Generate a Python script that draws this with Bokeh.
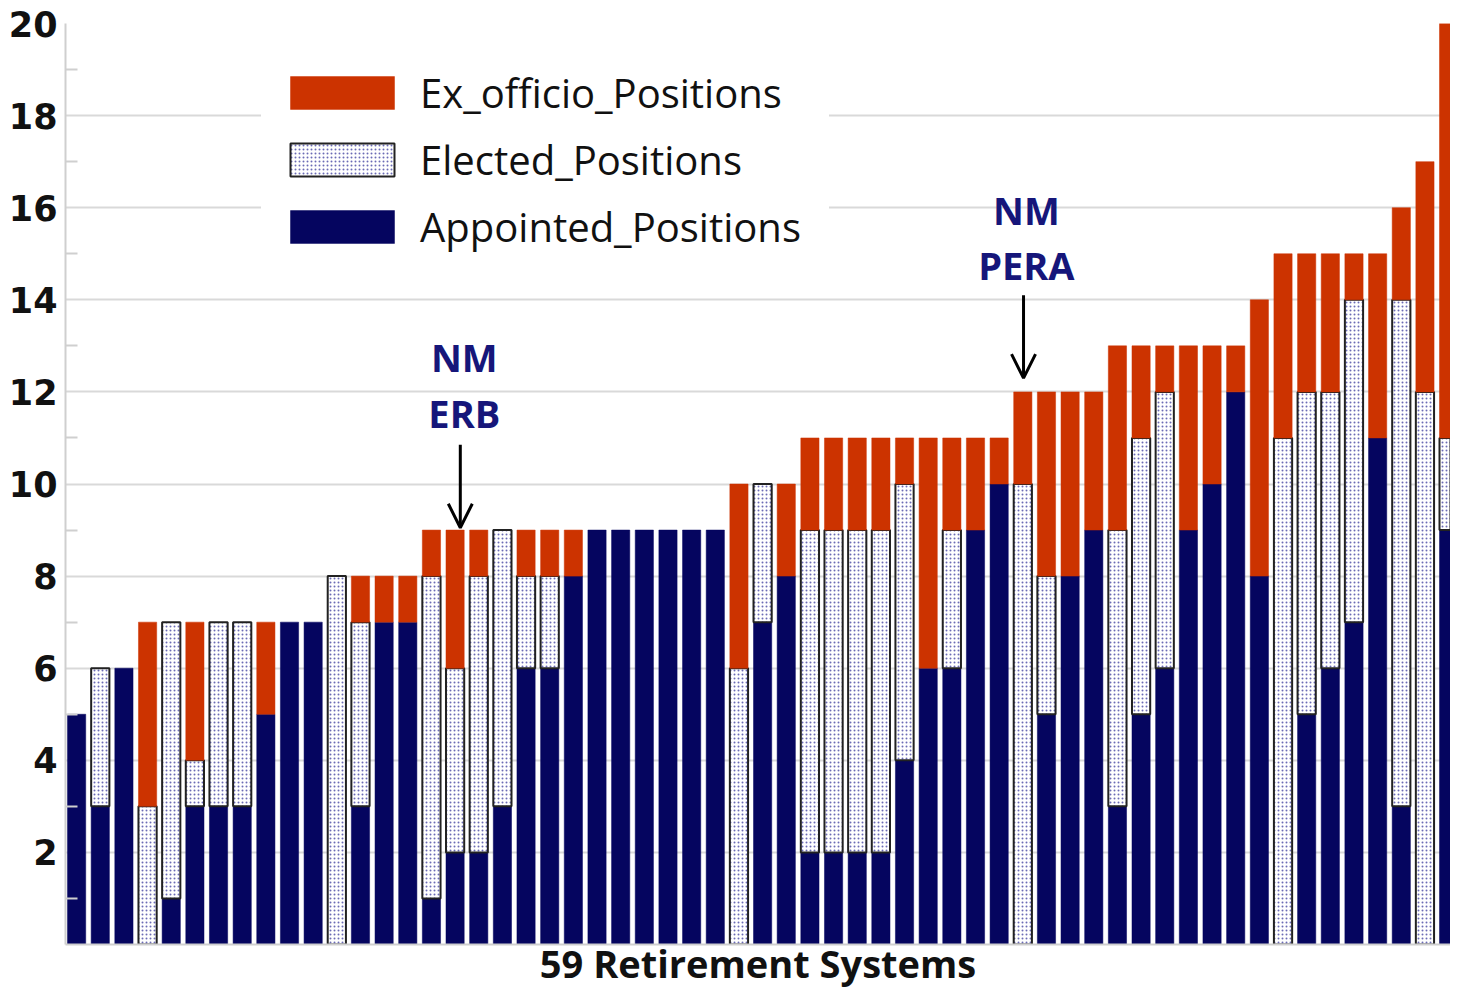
import numpy as np
from bokeh.plotting import figure
from bokeh.models import (ColumnDataSource, Range1d, FixedTicker, Legend, LegendItem,
                          Arrow, OpenHead, Label)
from bokeh.embed import file_html
from bokeh.resources import INLINE

# ---------------- data ----------------
systems = list(range(1, 60))
appointed = [5, 3, 6, 0, 1, 3, 3, 3, 5, 7,
             7, 0, 3, 7, 7, 1, 2, 2, 3, 6,
             6, 8, 9, 9, 9, 9, 9, 9, 0, 7,
             8, 2, 2, 2, 2, 4, 6, 6, 9, 10,
             0, 5, 8, 9, 3, 5, 6, 9, 10, 12,
             8, 0, 5, 6, 7, 11, 3, 0, 9]
elected = [0, 3, 0, 3, 6, 1, 4, 4, 0, 0,
           0, 8, 4, 0, 0, 7, 4, 6, 6, 2,
           2, 0, 0, 0, 0, 0, 0, 0, 6, 3,
           0, 7, 7, 7, 7, 6, 0, 3, 0, 0,
           10, 3, 0, 0, 6, 6, 6, 0, 0, 0,
           0, 11, 7, 6, 7, 0, 11, 12, 2]
ex_officio = [0, 0, 0, 4, 0, 3, 0, 0, 2, 0,
              0, 0, 1, 1, 1, 1, 3, 1, 0, 1,
              1, 1, 0, 0, 0, 0, 0, 0, 4, 0,
              2, 2, 2, 2, 2, 1, 5, 2, 2, 1,
              2, 4, 4, 3, 4, 2, 1, 4, 3, 1,
              6, 4, 3, 3, 1, 4, 2, 5, 9]
y_ticks = [2, 4, 6, 8, 10, 12, 14, 16, 18, 20]
y_minor = [1, 3, 5, 7, 9, 11, 13, 15, 17, 19]
series_names = ["Ex_officio_Positions", "Elected_Positions", "Appointed_Positions"]
x_label = "59 Retirement Systems"
# (line1, line2, text x, arrow x, line1 y, line2 y, arrow start y, arrow end y)
callouts = [("NM", "ERB", 17.39, 17.22, 12.75, 11.55, 10.85, 9.05),
            ("NM", "PERA", 41.15, 41.03, 15.95, 14.75, 14.1, 12.3)]

# ---------------- derived ----------------
x = np.array(systems, dtype=float)
a = np.array(appointed, dtype=float)
e = np.array(elected, dtype=float)
o = np.array(ex_officio, dtype=float)
total = a + e + o


def seg(bottom, top):
    m = top > bottom
    return ColumnDataSource(dict(x=x[m], bottom=bottom[m], top=top[m]))


src_a = seg(np.zeros_like(a), a)
src_e = seg(a, a + e)
src_o = seg(a + e, total)

NAVY = "#05055f"
RED = "#cc3300"
TXT_NAVY = "#16167a"

p = figure(width=1450, height=991, output_backend="svg", toolbar_location=None,
           x_range=Range1d(0.53, 59.08), y_range=Range1d(0, 20),
           min_border_left=65, min_border_right=0, min_border_top=23,
           min_border_bottom=30)
p.outline_line_color = None
p.background_fill_color = "white"
p.border_fill_color = "white"

W = 0.77
r_a = p.vbar(x="x", bottom="bottom", top="top", width=W, source=src_a,
             fill_color=NAVY, line_color=NAVY, line_width=0.5)
r_e = p.vbar(x="x", bottom="bottom", top="top", width=W, source=src_e,
             fill_color="white", line_color="#222222", line_width=2,
             hatch_pattern="dot", hatch_color="#3a3a9c", hatch_scale=4,
             hatch_weight=1.4, hatch_alpha=0.75)
r_o = p.vbar(x="x", bottom="bottom", top="top", width=W, source=src_o,
             fill_color=RED, line_color=RED, line_width=0.5)

# axes
p.xaxis.ticker = FixedTicker(ticks=[])
p.xaxis.axis_line_color = "#cfcfcf"
p.xaxis.axis_line_width = 2
p.xaxis.major_tick_line_color = None
p.xaxis.minor_tick_line_color = None
p.xaxis.major_tick_out = 0
p.xaxis.minor_tick_out = 0
p.xaxis.major_label_standoff = 0
p.xaxis.major_label_text_font_size = "0px"
p.xaxis.axis_label = x_label
p.xaxis.axis_label_standoff = -8
p.xaxis.axis_label_text_font = "Open Sans"
p.xaxis.axis_label_text_font_style = "bold"
p.xaxis.axis_label_text_font_size = "38px"
p.xaxis.axis_label_text_color = "#111111"

p.yaxis.ticker = FixedTicker(ticks=y_ticks, minor_ticks=y_minor)
p.yaxis.axis_line_color = "#cfcfcf"
p.yaxis.axis_line_width = 2
p.yaxis.major_tick_line_color = None
p.yaxis.major_tick_out = 0
p.yaxis.major_tick_in = 0
p.yaxis.minor_tick_line_color = "#cfcfcf"
p.yaxis.minor_tick_line_width = 2
p.yaxis.minor_tick_in = 12
p.yaxis.minor_tick_out = 0
p.yaxis.major_label_text_font = "DejaVu Sans"
p.yaxis.major_label_text_font_style = "bold"
p.yaxis.major_label_text_font_size = "35px"
p.yaxis.major_label_text_color = "#111111"
p.yaxis.major_label_standoff = 8

p.xgrid.grid_line_color = None
p.ygrid.ticker = FixedTicker(ticks=y_ticks)
p.ygrid.grid_line_color = "#d9d9d9"
p.ygrid.grid_line_width = 2

# legend
legend = Legend(items=[LegendItem(label=series_names[0], renderers=[r_o]),
                       LegendItem(label=series_names[1], renderers=[r_e]),
                       LegendItem(label=series_names[2], renderers=[r_a])],
                location=(196, 674), orientation="vertical")
legend.glyph_width = 130
legend.glyph_height = 41
legend.label_standoff = 13
legend.label_height = 56
legend.label_width = 393
legend.spacing = 11
legend.padding = 15
legend.margin = 0
legend.label_text_font = "Open Sans"
legend.label_text_font_size = "40px"
legend.label_text_color = "#111111"
legend.border_line_color = "white"
legend.border_line_width = 1
legend.background_fill_color = "white"
legend.background_fill_alpha = 1.0
p.add_layout(legend, "center")

# callouts
for line1, line2, tx, ax, y1, y2, ys, ye in callouts:
    p.add_layout(Arrow(end=OpenHead(size=24, line_width=3, line_color="black"),
                       x_start=ax, y_start=ys, x_end=ax, y_end=ye,
                       line_width=3, line_color="black"))
    for txt, ty in ((line1, y1), (line2, y2)):
        p.add_layout(Label(x=tx, y=ty, text=txt, text_align="center",
                           text_baseline="middle", text_font="Open Sans",
                           text_font_style="bold", text_font_size="38px",
                           text_color=TXT_NAVY))

open("out.html", "w").write(file_html(p, INLINE))
